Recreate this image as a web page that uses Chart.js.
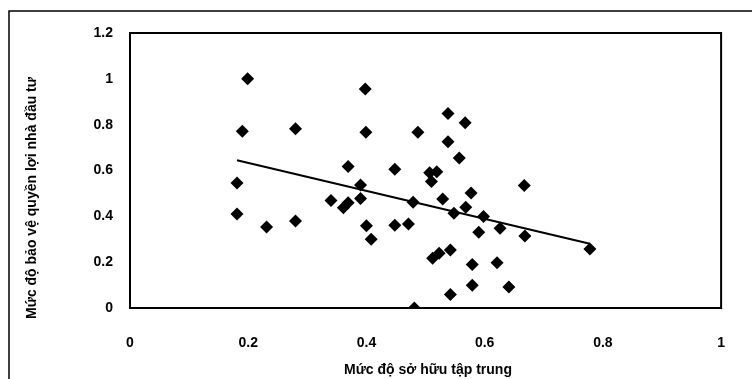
<!DOCTYPE html>
<html>
<head>
<meta charset="utf-8">
<script src="https://cdn.jsdelivr.net/npm/chart.js@4/dist/chart.umd.min.js"></script>
<style>
  html, body { margin: 0; padding: 0; background: #fff; }
</style>
</head>
<body>
<canvas id="scatterChart" width="752" height="379"></canvas>
<script>
// Mức độ sở hữu tập trung (x) vs Mức độ bảo vệ quyền lợi nhà đầu tư (y)
const ownership = [
  0.199, 0.190, 0.280, 0.181, 0.181, 0.231, 0.280, 0.340, 0.361, 0.369,
  0.390, 0.369, 0.390, 0.398, 0.399, 0.400, 0.408, 0.448, 0.448, 0.471,
  0.479, 0.481, 0.487, 0.510, 0.507, 0.519, 0.512, 0.523, 0.529, 0.538,
  0.538, 0.542, 0.542, 0.548, 0.557, 0.567, 0.568, 0.577, 0.579, 0.579,
  0.590, 0.598, 0.621, 0.626, 0.641, 0.667, 0.668, 0.778
];
const protection = [
  1.000, 0.771, 0.782, 0.546, 0.410, 0.354, 0.380, 0.469, 0.437, 0.459,
  0.478, 0.618, 0.537, 0.956, 0.767, 0.359, 0.300, 0.606, 0.361, 0.367,
  0.461, 0.000, 0.767, 0.552, 0.590, 0.595, 0.217, 0.239, 0.476, 0.849,
  0.726, 0.253, 0.059, 0.414, 0.655, 0.808, 0.440, 0.502, 0.190, 0.099,
  0.331, 0.399, 0.197, 0.348, 0.092, 0.535, 0.314, 0.258
];
// trend line end points
const trendX = [0.181, 0.778];
const trendY = [0.645, 0.280];

const xTickLabels = ["0", "0.2", "0.4", "0.6", "0.8", "1"];
const yTickLabels = ["0", "0.2", "0.4", "0.6", "0.8", "1", "1.2"];

const xTitle = "Mức độ sở hữu tập trung";
const yTitle = "Mức độ bảo vệ quyền lợi nhà đầu tư";

const FONT = "'Liberation Sans', Arial, sans-serif";

const framePlugin = {
  id: "frame",
  beforeDraw(chart) {
    const ctx = chart.ctx;
    ctx.save();
    ctx.fillStyle = "#fff";
    ctx.fillRect(0, 0, chart.width, chart.height);
    // outer chart border (only top and left are visible)
    ctx.strokeStyle = "#000";
    ctx.lineWidth = 1.5;
    ctx.beginPath();
    ctx.moveTo(9, chart.height);
    ctx.lineTo(9, 11);
    ctx.lineTo(chart.width, 11);
    ctx.stroke();
    ctx.restore();
  },
  afterDraw(chart) {
    const ctx = chart.ctx;
    const a = chart.chartArea;
    ctx.save();
    ctx.strokeStyle = "#000";
    ctx.lineWidth = 2;
    ctx.strokeRect(a.left, a.top, a.right - a.left, a.bottom - a.top);

    ctx.fillStyle = "#000";
    ctx.font = "bold 14px " + FONT;
    ctx.textAlign = "center";
    ctx.textBaseline = "middle";
    ctx.fillText(xTitle, 428, 370);

    ctx.translate(32, 198);
    ctx.rotate(-Math.PI / 2);
    ctx.fillText(yTitle, 0, 0);
    ctx.restore();
  }
};

const ctx = document.getElementById("scatterChart").getContext("2d");

new Chart(ctx, {
  type: "scatter",
  data: {
    datasets: [
      {
        data: ownership.map((x, i) => ({ x: x, y: protection[i] })),
        pointStyle: "rectRot",
        pointRadius: 6.5,
        backgroundColor: "#000",
        borderColor: "#000",
        borderWidth: 0
      },
      {
        data: trendX.map((x, i) => ({ x: x, y: trendY[i] })),
        showLine: true,
        borderColor: "#000",
        borderWidth: 2,
        pointRadius: 0
      }
    ]
  },
  options: {
    responsive: false,
    animation: false,
    layout: { padding: { top: 33, right: 30, left: 0, bottom: 0 } },
    plugins: {
      legend: { display: false },
      tooltip: { enabled: false }
    },
    scales: {
      x: {
        type: "linear",
        min: 0,
        max: 1,
        grid: { display: false, drawTicks: false },
        border: { display: false },
        ticks: {
          stepSize: 0.2,
          padding: 27,
          color: "#000",
          font: { family: FONT, size: 14, weight: "bold" },
          callback: (value, i) => xTickLabels[i]
        },
        afterFit(scale) { scale.height = 71; }
      },
      y: {
        min: 0,
        max: 1.2,
        grid: { display: false, drawTicks: false },
        border: { display: false },
        ticks: {
          stepSize: 0.2,
          padding: 17,
          color: "#000",
          font: { family: FONT, size: 14, weight: "bold" },
          callback: (value, i) => yTickLabels[i]
        },
        afterFit(scale) { scale.width = 130; }
      }
    }
  },
  plugins: [framePlugin]
});
</script>
</body>
</html>
